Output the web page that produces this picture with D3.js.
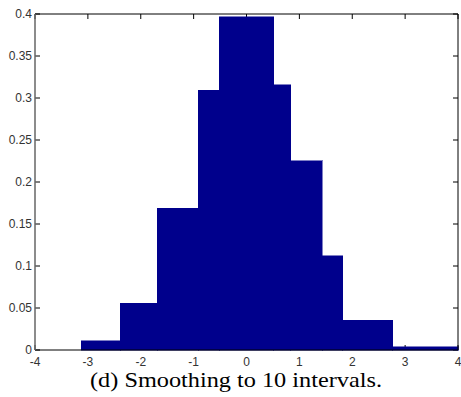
<!DOCTYPE html>
<html><head><meta charset="utf-8">
<script src="https://cdn.jsdelivr.net/npm/d3@7"></script>
<style>body{margin:0;background:#fff}svg{display:block}</style>
</head><body>
<script>
// bin edges (variable-width intervals) and densities
const binEdges = [-3.13, -2.39, -1.69, -0.91, -0.52, 0.52, 0.84, 1.43, 1.82, 2.77, 4.0];
const densities = [0.0113, 0.0554, 0.1687, 0.3095, 0.3968, 0.3155, 0.2254, 0.1123, 0.0357, 0.0036];
const xTicks = [-4, -3, -2, -1, 0, 1, 2, 3, 4];
const yTicks = [0, 0.05, 0.1, 0.15, 0.2, 0.25, 0.3, 0.35, 0.4];
const caption = "(d) Smoothing to 10 intervals.";

const W = 461, H = 397;
const L = 35, R = 458, T = 14, B = 350;
const svg = d3.select("body").append("svg").attr("width", W).attr("height", H);
const x = d3.scaleLinear().domain([-4, 4]).range([L, R]);
const y = d3.scaleLinear().domain([0, 0.4]).range([B, T]);

const bins = densities.map((d, i) => ({x0: binEdges[i], x1: binEdges[i + 1], v: d}));

// ticks (drawn under the bars)
const tickLen = 5;
const gT = svg.append("g");
gT.selectAll(".xb").data(xTicks).join("line")
  .attr("x1", d => x(d)).attr("x2", d => x(d)).attr("y1", B).attr("y2", B - tickLen)
  .attr("stroke", "#000");
gT.selectAll(".xt").data(xTicks).join("line")
  .attr("x1", d => x(d)).attr("x2", d => x(d)).attr("y1", T).attr("y2", T + tickLen)
  .attr("stroke", "#000");
gT.selectAll(".yl").data(yTicks).join("line")
  .attr("x1", L).attr("x2", L + tickLen).attr("y1", d => y(d)).attr("y2", d => y(d))
  .attr("stroke", "#000");
gT.selectAll(".yr").data(yTicks).join("line")
  .attr("x1", R).attr("x2", R - tickLen).attr("y1", d => y(d)).attr("y2", d => y(d))
  .attr("stroke", "#000");

// bars
svg.append("g").attr("shape-rendering", "crispEdges")
  .selectAll("rect").data(bins).join("rect")
  .attr("x", d => x(d.x0)).attr("width", d => x(d.x1) - x(d.x0))
  .attr("y", d => y(d.v)).attr("height", d => y(0) - y(d.v))
  .attr("fill", "#00008C").attr("stroke", "#00008C").attr("stroke-width", 0.5);

// box
svg.append("line").attr("x1", L).attr("x2", R).attr("y1", T).attr("y2", T).attr("stroke", "#000");
svg.append("line").attr("x1", L).attr("x2", R).attr("y1", B).attr("y2", B).attr("stroke", "#000");
svg.append("line").attr("x1", L).attr("x2", L).attr("y1", T).attr("y2", B).attr("stroke", "#666").attr("stroke-width", 1.5);
svg.append("line").attr("x1", R).attr("x2", R).attr("y1", T).attr("y2", B).attr("stroke", "#000");

// tick labels
const fmt = d => d === 0 ? "0" : String(d);
svg.append("g").selectAll("text").data(yTicks).join("text")
  .attr("x", 32).attr("y", d => y(d)).attr("dy", "0.35em")
  .attr("text-anchor", "end")
  .attr("font-family", "Liberation Sans, Arial, sans-serif").attr("font-size", 12)
  .attr("fill", "#333").text(fmt);
svg.append("g").selectAll("text").data(xTicks).join("text")
  .attr("x", d => x(d)).attr("y", 366)
  .attr("text-anchor", "middle")
  .attr("font-family", "Liberation Sans, Arial, sans-serif").attr("font-size", 12)
  .attr("fill", "#333").text(d => String(d));

// caption
svg.append("text").attr("x", 236).attr("y", 387).attr("text-anchor", "middle")
  .attr("font-family", "Liberation Serif, 'Times New Roman', serif").attr("font-size", 21)
  .attr("textLength", 292).attr("lengthAdjust", "spacingAndGlyphs")
  .attr("fill", "#000").text(caption);
</script>
</body></html>
